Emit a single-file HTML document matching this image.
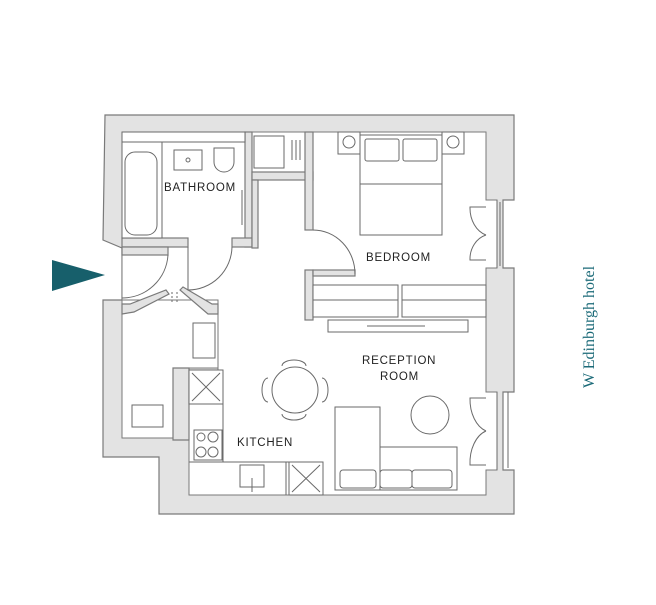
<!DOCTYPE html>
<html><head><meta charset="utf-8"><style>
html,body{margin:0;padding:0;background:#fff;width:656px;height:605px;overflow:hidden}
svg{display:block}
.w{fill:#e3e3e3;stroke:#7a7a7a;stroke-width:1.2}
.f{fill:#fff;stroke:#6a6a6a;stroke-width:1}
.l{fill:none;stroke:#6a6a6a;stroke-width:1}
.t{font-family:"Liberation Sans",sans-serif;font-size:11.5px;fill:#222;letter-spacing:0.8px}
</style></head><body>
<svg width="656" height="605" viewBox="0 0 656 605">
<polygon class="w" points="105,115 514,115 514,200 503,200 503,268 514,268 514,392 503,392 503,470 514,470 514,514 159,514 159,457 103,457 103,300 122,300 122,248 103,240 105,115"/>
<polygon fill="#fff" stroke="#7a7a7a" stroke-width="1" points="122,132 486,132 486,200 497,200 497,268 486,268 486,392 497,392 497,470 486,470 486,495 189,495 189,370 218,370 218,318 200,318 200,300 122,300 122,132"/>
<polygon fill="#fff" stroke="#7a7a7a" stroke-width="1" points="122,300 218,300 218,368 173,368 173,438 122,438"/>
<polygon class="w" points="173,368 189,368 189,440 173,440"/>
<rect class="w" x="245" y="132" width="7" height="115"/>
<rect class="w" x="122" y="238" width="66" height="9"/>
<rect class="w" x="232" y="238" width="20" height="9"/>
<rect class="w" x="122" y="247" width="46" height="8"/>
<rect class="w" x="252" y="172" width="61" height="8"/>
<rect class="w" x="305" y="132" width="8" height="98"/>
<rect class="w" x="252" y="180" width="6" height="68"/>
<rect class="w" x="305" y="270" width="8" height="50"/>
<rect class="w" x="313" y="270" width="42" height="6"/>
<!-- hall thin diagonal walls -->
<polygon class="w" points="122,304 130,304 166,290 169,294 134,312 122,314"/>
<polygon class="w" points="180,290 183,287 212,304 218,304 218,314 208,314"/>
<line class="l" x1="172" y1="292" x2="172" y2="304" stroke-dasharray="2,2"/>
<line class="l" x1="177" y1="292" x2="177" y2="304" stroke-dasharray="2,2"/>
<rect class="f" x="193" y="323" width="22" height="35"/>
<rect class="f" x="132" y="405" width="31" height="22"/>
<path class="l" d="M188,247 L188,290 A44,44 0 0 0 232,247"/>
<path class="l" d="M168,255 A46,46 0 0 1 122,298"/>
<path class="l" d="M313,230 A42,44 0 0 1 355,274"/>
<path class="l" d="M486,207 L470,207 A22,28 0 0 0 486,235 M486,260 L470,260 A22,25 0 0 1 486,235"/>
<path class="l" d="M486,398 L470,398 A22,33 0 0 0 486,431 M486,465 L470,465 A22,33 0 0 1 486,431"/>
<line class="l" x1="497" y1="200" x2="497" y2="268"/><line class="l" x1="500" y1="202" x2="500" y2="266"/>
<line class="l" x1="497" y1="392" x2="497" y2="470"/><line class="l" x1="508" y1="392" x2="508" y2="468"/>
<rect class="f" x="122" y="132" width="123" height="10"/>
<rect class="f" x="122" y="142" width="40" height="96"/>
<rect class="f" x="125" y="152" width="32" height="83" rx="10"/>
<rect class="f" x="174" y="150" width="28" height="20"/>
<circle class="l" cx="188" cy="160" r="2"/>
<path class="l" d="M214,148 L214,162 A10,10 0 0 0 234,162 L234,148 Z"/>
<line class="l" x1="242" y1="190" x2="242" y2="225"/>
<rect class="f" x="254" y="136" width="30" height="32"/>
<line class="l" x1="292" y1="140" x2="292" y2="160"/><line class="l" x1="296" y1="140" x2="296" y2="160"/><line class="l" x1="300" y1="140" x2="300" y2="160"/>
<rect class="f" x="338" y="132" width="22" height="22"/><circle class="l" cx="349" cy="142" r="6"/>
<rect class="f" x="442" y="132" width="22" height="22"/><circle class="l" cx="453" cy="142" r="6"/>
<rect class="f" x="360" y="135" width="82" height="100"/>
<rect class="f" x="365" y="139" width="34" height="22" rx="2"/>
<rect class="f" x="403" y="139" width="34" height="22" rx="2"/>
<line class="l" x1="360" y1="184" x2="442" y2="184"/>
<rect class="f" x="313" y="285" width="85" height="32"/>
<rect class="f" x="402" y="285" width="84" height="32"/>
<line class="l" x1="313" y1="300" x2="398" y2="300"/><line class="l" x1="402" y1="300" x2="486" y2="300"/>
<rect class="f" x="328" y="320" width="140" height="12"/>
<line class="l" x1="367" y1="326" x2="425" y2="326"/>
<rect class="f" x="189" y="370" width="34" height="34"/>
<path class="l" d="M192,373 L220,401 M220,373 L192,401"/>
<line class="l" x1="223" y1="404" x2="223" y2="462"/>
<line class="l" x1="189" y1="462" x2="323" y2="462"/>
<rect class="f" x="194" y="430" width="28" height="30"/>
<circle class="l" cx="201" cy="437" r="4"/><circle class="l" cx="213" cy="437" r="5"/>
<circle class="l" cx="201" cy="452" r="5"/><circle class="l" cx="213" cy="452" r="5"/>
<rect class="f" x="240" y="465" width="24" height="22"/>
<line class="l" x1="252" y1="478" x2="252" y2="492"/>
<rect class="f" x="289" y="462" width="34" height="33"/>
<path class="l" d="M292,465 L320,492 M320,465 L292,492"/>
<line class="l" x1="286" y1="462" x2="286" y2="495"/>
<circle class="f" cx="295" cy="390" r="23"/>
<path class="l" d="M282,366 A12,6 0 0 1 306,366 M282,414 A12,6 0 0 0 306,414 M268,378 A6,12 0 0 0 268,402 M322,378 A6,12 0 0 1 322,402"/>
<rect class="f" x="335" y="407" width="45" height="83"/>
<rect class="f" x="380" y="447" width="77" height="43"/>
<rect class="f" x="340" y="470" width="36" height="18" rx="3"/>
<rect class="f" x="380" y="470" width="32" height="18" rx="3"/>
<rect class="f" x="412" y="470" width="40" height="18" rx="3"/>
<circle class="f" cx="430" cy="415" r="19"/>
<text class="t" x="164" y="191">BATHROOM</text>
<text class="t" x="366" y="261">BEDROOM</text>
<text class="t" x="362" y="364">RECEPTION</text>
<text class="t" x="380" y="380">ROOM</text>
<text class="t" x="237" y="446">KITCHEN</text>
<polygon points="52,260 52,291 105,275" fill="#175f6b"/>
<text x="0" y="0" transform="translate(594,327) rotate(-90)" text-anchor="middle" font-family="Liberation Serif,serif" font-size="16" fill="#1b6a78">W Edinburgh hotel</text>
</svg>
</body></html>
